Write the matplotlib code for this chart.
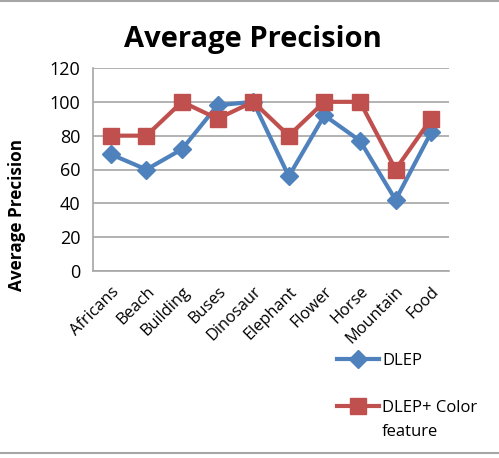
import matplotlib
matplotlib.use("Agg")
import matplotlib.pyplot as plt
from matplotlib.lines import Line2D

categories = ["Africans", "Beach", "Building", "Buses", "Dinosaur", "Elephant",
              "Flower", "Horse", "Mountain", "Food"]
dlep = [69, 60, 72, 98, 100, 56, 92, 77, 42, 82]
dlep_color = [80, 80, 100, 90, 100, 80, 100, 100, 60, 90]
yticks = [0, 20, 40, 60, 80, 100, 120]
series_names = ["DLEP", "DLEP+ Color"]
name_wrap = "feature"

plt.rcParams['font.family'] = ['Open Sans', 'DejaVu Sans']

W, H = 499, 458
fig = plt.figure(figsize=(W / 100, H / 100), dpi=100)
ax = fig.add_axes([93 / W, 1 - 271 / H, (449 - 93) / W, (271 - 68) / H])

x = list(range(len(categories)))
blue = "#4F81BD"
red = "#C0504D"
l1, = ax.plot(x, dlep, color=blue, lw=3, marker="D", markersize=9,
              label=series_names[0], zorder=3)
l2, = ax.plot(x, dlep_color, color=red, lw=3, marker="s", markersize=11,
              label=series_names[1], zorder=4)

ax.set_xlim(-0.5, len(categories) - 0.5)
ax.set_ylim(0, 120)
ax.set_yticks(yticks)
ax.set_xticks(x)
ax.set_xticklabels(categories, rotation=45, ha="right", rotation_mode="anchor", fontsize=11.8)
ax.tick_params(axis="both", length=0, colors="black")
ax.tick_params(axis="y", pad=9, labelsize=13)
ax.tick_params(axis="x", pad=9)
ax.grid(axis="y", color="#A6A6A6", lw=1.2)
ax.set_axisbelow(True)
for s in ["top", "right"]:
    ax.spines[s].set_visible(False)
ax.spines["left"].set_color("#A6A6A6")
ax.spines["bottom"].set_color("#A6A6A6")
ax.spines["left"].set_linewidth(1.2)
ax.spines["bottom"].set_linewidth(1.2)

fig.text(253 / W, 1 - 39 / H, "Average Precision", ha="center", va="center",
         fontsize=21, fontweight="bold")
fig.text(17 / W, 1 - 215 / H, "Average Precision", ha="center", va="center",
         rotation=90, fontsize=12.3, fontweight="bold")

leg = fig.legend(handles=[l1, l2], loc="upper left", bbox_to_anchor=(337 / W, 1 - 353 / H),
                 frameon=False, fontsize=12, handlelength=2.5, handletextpad=0.2,
                 labelspacing=1.85, borderpad=0, borderaxespad=0)

fig.canvas.draw()
bb = leg.get_texts()[1].get_window_extent()
fig.text(bb.x0 / fig.bbox.width,
         (bb.y0 - 24 + (bb.y1 - bb.y0) / 2) / fig.bbox.height,
         name_wrap, ha="left", va="center", fontsize=12)

fig.add_artist(Line2D([0, 1], [1 - 1 / H, 1 - 1 / H], transform=fig.transFigure,
                      color="#A6A6A6", lw=1.5))
fig.add_artist(Line2D([0, 1], [1 - 453 / H, 1 - 453 / H], transform=fig.transFigure,
                      color="#A6A6A6", lw=1.5))

fig.savefig("out.png", dpi=100)
